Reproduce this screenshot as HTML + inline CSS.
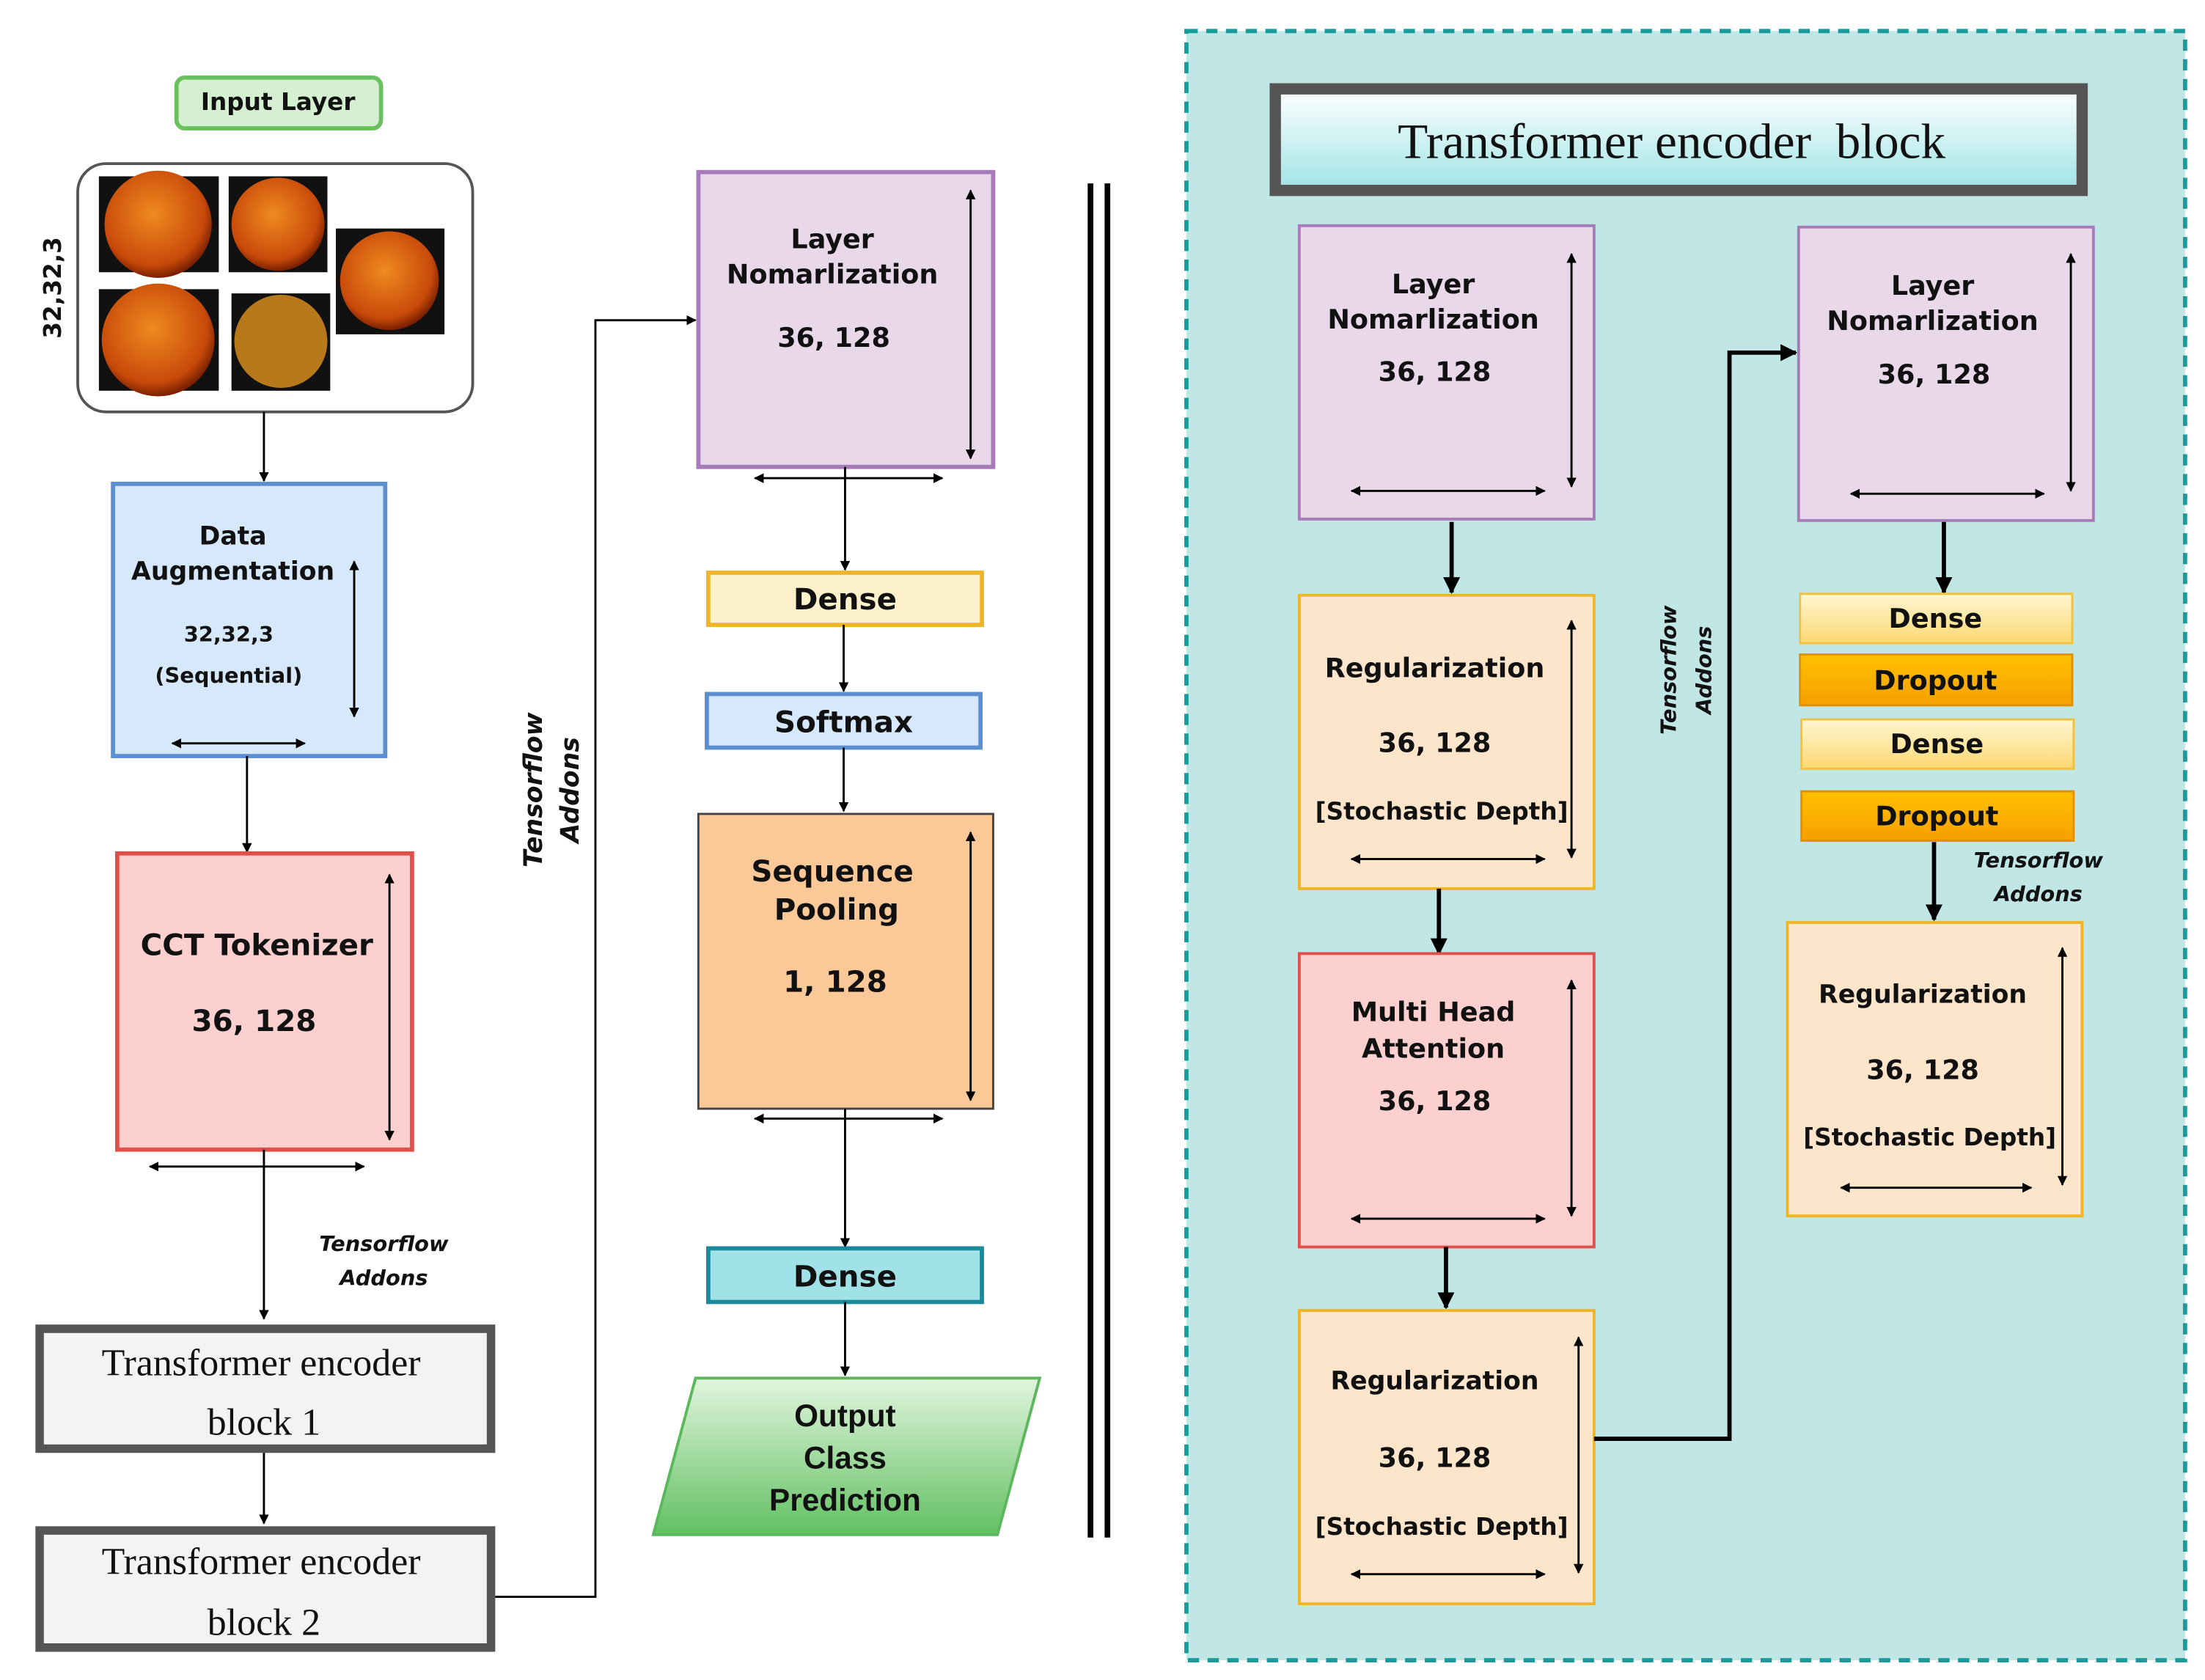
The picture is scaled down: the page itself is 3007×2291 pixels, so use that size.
<!DOCTYPE html>
<html><head><meta charset="utf-8"><style>html,body{margin:0;padding:0;background:#fff}svg{display:block}</style></head>
<body>
<svg xmlns="http://www.w3.org/2000/svg" width="3007" height="2291" viewBox="0 0 1563 1191">
<defs>
<marker id="a" viewBox="0 0 10 10" refX="9" refY="5" markerWidth="7" markerHeight="7" orient="auto-start-reverse" markerUnits="userSpaceOnUse"><path d="M0,0 L10,5 L0,10 z" fill="#000"/></marker>
<marker id="b" viewBox="0 0 10 10" refX="9" refY="5" markerWidth="12" markerHeight="12" orient="auto-start-reverse" markerUnits="userSpaceOnUse"><path d="M0,0 L10,5 L0,10 z" fill="#000"/></marker>
<linearGradient id="g" x1="0" y1="0" x2="0" y2="1"><stop offset="0" stop-color="#e2f5de"/><stop offset="1" stop-color="#62c062"/></linearGradient>
<linearGradient id="t" x1="0" y1="0" x2="0" y2="1"><stop offset="0" stop-color="#ffffff"/><stop offset="1" stop-color="#9fe4e6"/></linearGradient>
<linearGradient id="y" x1="0" y1="0" x2="0" y2="1"><stop offset="0" stop-color="#fff6d2"/><stop offset="1" stop-color="#fbd872"/></linearGradient>
<linearGradient id="o" x1="0" y1="0" x2="0" y2="1"><stop offset="0" stop-color="#ffc000"/><stop offset="1" stop-color="#f5a000"/></linearGradient>
<radialGradient id="f" cx="0.45" cy="0.4" r="0.6"><stop offset="0" stop-color="#f08a20"/><stop offset="0.8" stop-color="#c84a0a"/><stop offset="1" stop-color="#7a2000"/></radialGradient>
</defs>
<g font-family="'DejaVu Sans','Liberation Sans',sans-serif" font-weight="bold" text-anchor="middle" fill="#111">

<!-- Left column -->
<rect x="125" y="55" width="145" height="36" rx="6" fill="#d5f0d0" stroke="#6abf5e" stroke-width="3"/>
<text x="197" y="78" font-size="17">Input Layer</text>
<rect x="55" y="116" width="280" height="176" rx="20" fill="#fff" stroke="#555" stroke-width="2"/>
<rect x="70" y="125" width="85" height="68" fill="#111"/><circle cx="112" cy="159" r="38" fill="url(#f)"/>
<rect x="162" y="125" width="70" height="68" fill="#111"/><circle cx="197" cy="159" r="33" fill="url(#f)"/>
<rect x="238" y="162" width="77" height="75" fill="#111"/><circle cx="276" cy="199" r="35" fill="url(#f)"/>
<rect x="70" y="205" width="85" height="72" fill="#111"/><circle cx="112" cy="241" r="40" fill="url(#f)"/>
<rect x="164" y="208" width="70" height="69" fill="#111"/><circle cx="199" cy="242" r="33" fill="#b8781c"/>
<rect x="70" y="125" width="85" height="68" fill="none"/>
<g clip-path="none"></g>
<text transform="translate(43,204) rotate(-90)" font-size="17">32,32,3</text>
<line x1="187" y1="292" x2="187" y2="341" stroke="#000" stroke-width="1.5" marker-end="url(#a)"/>

<rect x="80" y="343" width="193" height="193" fill="#d6e8fb" stroke="#5b8fd0" stroke-width="3"/>
<text x="165" y="386" font-size="18">Data</text>
<text x="165" y="411" font-size="18">Augmentation</text>
<text x="162" y="455" font-size="15">32,32,3</text>
<text x="162" y="484" font-size="15">(Sequential)</text>
<line x1="251" y1="398" x2="251" y2="508" stroke="#000" stroke-width="1.5" marker-start="url(#a)" marker-end="url(#a)"/>
<line x1="122" y1="527" x2="216" y2="527" stroke="#000" stroke-width="1.5" marker-start="url(#a)" marker-end="url(#a)"/>
<line x1="175" y1="536" x2="175" y2="604" stroke="#000" stroke-width="1.5" marker-end="url(#a)"/>

<rect x="83" y="605" width="209" height="210" fill="#fdd0d0" stroke="#e0504a" stroke-width="3"/>
<text x="182" y="677" font-size="21">CCT Tokenizer</text>
<text x="180" y="731" font-size="21">36, 128</text>
<line x1="276" y1="620" x2="276" y2="808" stroke="#000" stroke-width="1.5" marker-start="url(#a)" marker-end="url(#a)"/>
<line x1="106" y1="827" x2="258" y2="827" stroke="#000" stroke-width="1.5" marker-start="url(#a)" marker-end="url(#a)"/>
<line x1="187" y1="815" x2="187" y2="935" stroke="#000" stroke-width="1.5" marker-end="url(#a)"/>
<text x="272" y="887" font-size="15" font-style="italic">Tensorflow</text>
<text x="272" y="911" font-size="15" font-style="italic">Addons</text>

<rect x="28" y="942" width="320" height="85" fill="#f3f3f3" stroke="#555" stroke-width="6"/>
<text x="185" y="975" font-size="27" font-family="'Liberation Serif',serif" font-weight="normal">Transformer encoder</text>
<text x="187" y="1017" font-size="27" font-family="'Liberation Serif',serif" font-weight="normal">block 1</text>
<line x1="187" y1="1030" x2="187" y2="1080" stroke="#000" stroke-width="1.5" marker-end="url(#a)"/>
<rect x="28" y="1085" width="320" height="83" fill="#f3f3f3" stroke="#555" stroke-width="6"/>
<text x="185" y="1116" font-size="27" font-family="'Liberation Serif',serif" font-weight="normal">Transformer encoder</text>
<text x="187" y="1159" font-size="27" font-family="'Liberation Serif',serif" font-weight="normal">block 2</text>
<polyline points="351,1132 422,1132 422,227 493,227" fill="none" stroke="#000" stroke-width="1.5" marker-end="url(#a)"/>
<text transform="translate(384,560) rotate(-90)" font-size="18" font-style="italic">Tensorflow</text>
<text transform="translate(410,560) rotate(-90)" font-size="18" font-style="italic">Addons</text>

<!-- Middle column -->
<rect x="495" y="122" width="209" height="209" fill="#e8d8ea" stroke="#a77bb8" stroke-width="3"/>
<text x="590" y="176" font-size="19">Layer</text>
<text x="590" y="201" font-size="19">Nomarlization</text>
<text x="591" y="246" font-size="19">36, 128</text>
<line x1="688" y1="135" x2="688" y2="325" stroke="#000" stroke-width="1.5" marker-start="url(#a)" marker-end="url(#a)"/>
<line x1="535" y1="339" x2="668" y2="339" stroke="#000" stroke-width="1.5" marker-start="url(#a)" marker-end="url(#a)"/>
<line x1="599" y1="331" x2="599" y2="404" stroke="#000" stroke-width="1.5" marker-end="url(#a)"/>
<rect x="502" y="406" width="194" height="37" fill="#fdf1cc" stroke="#f0b429" stroke-width="3"/>
<text x="599" y="432" font-size="21">Dense</text>
<line x1="598" y1="443" x2="598" y2="490" stroke="#000" stroke-width="1.5" marker-end="url(#a)"/>
<rect x="501" y="492" width="194" height="38" fill="#d6e8fb" stroke="#5b8fd0" stroke-width="3"/>
<text x="598" y="519" font-size="21">Softmax</text>
<line x1="598" y1="530" x2="598" y2="575" stroke="#000" stroke-width="1.5" marker-end="url(#a)"/>
<rect x="495" y="577" width="209" height="209" fill="#fbc898" stroke="#444" stroke-width="1.5"/>
<text x="590" y="625" font-size="21">Sequence</text>
<text x="593" y="652" font-size="21">Pooling</text>
<text x="592" y="703" font-size="21">1, 128</text>
<line x1="688" y1="590" x2="688" y2="780" stroke="#000" stroke-width="1.5" marker-start="url(#a)" marker-end="url(#a)"/>
<line x1="535" y1="793" x2="668" y2="793" stroke="#000" stroke-width="1.5" marker-start="url(#a)" marker-end="url(#a)"/>
<line x1="599" y1="786" x2="599" y2="884" stroke="#000" stroke-width="1.5" marker-end="url(#a)"/>
<rect x="502" y="885" width="194" height="38" fill="#a0e2e8" stroke="#1a8a9a" stroke-width="3"/>
<text x="599" y="912" font-size="21">Dense</text>
<line x1="599" y1="923" x2="599" y2="975" stroke="#000" stroke-width="1.5" marker-end="url(#a)"/>
<polygon points="493,977 737,977 707,1088 463,1088" fill="url(#g)" stroke="#5cb85c" stroke-width="2"/>
<text x="599" y="1011" font-size="22" font-family="'Liberation Sans',sans-serif">Output</text>
<text x="599" y="1041" font-size="22" font-family="'Liberation Sans',sans-serif">Class</text>
<text x="599" y="1071" font-size="22" font-family="'Liberation Sans',sans-serif">Prediction</text>
<line x1="773" y1="130" x2="773" y2="1090" stroke="#000" stroke-width="4"/>
<line x1="785" y1="130" x2="785" y2="1090" stroke="#000" stroke-width="4"/>

<!-- Right panel -->
<rect x="841" y="22" width="708" height="1155" fill="#c0e6e6" stroke="#1a9a9a" stroke-width="3" stroke-dasharray="8,6"/>
<rect x="904" y="63" width="572" height="72" fill="url(#t)" stroke="#555" stroke-width="8"/>
<text x="1185" y="112" font-size="35" font-family="'Liberation Serif',serif" font-weight="normal" xml:space="preserve">Transformer encoder  block</text>

<rect x="921" y="160" width="209" height="208" fill="#e8d8ea" stroke="#a77bb8" stroke-width="2"/>
<text x="1016" y="208" font-size="19">Layer</text>
<text x="1016" y="233" font-size="19">Nomarlization</text>
<text x="1017" y="270" font-size="19">36, 128</text>
<line x1="1114" y1="180" x2="1114" y2="345" stroke="#000" stroke-width="1.5" marker-start="url(#a)" marker-end="url(#a)"/>
<line x1="958" y1="348" x2="1095" y2="348" stroke="#000" stroke-width="1.5" marker-start="url(#a)" marker-end="url(#a)"/>
<line x1="1029" y1="370" x2="1029" y2="420" stroke="#000" stroke-width="3" marker-end="url(#b)"/>

<rect x="921" y="422" width="209" height="208" fill="#fde5cc" stroke="#f0b429" stroke-width="2"/>
<text x="1017" y="480" font-size="19">Regularization</text>
<text x="1017" y="533" font-size="19">36, 128</text>
<text x="1022" y="581" font-size="17">[Stochastic Depth]</text>
<line x1="1114" y1="440" x2="1114" y2="608" stroke="#000" stroke-width="1.5" marker-start="url(#a)" marker-end="url(#a)"/>
<line x1="958" y1="609" x2="1095" y2="609" stroke="#000" stroke-width="1.5" marker-start="url(#a)" marker-end="url(#a)"/>
<line x1="1020" y1="630" x2="1020" y2="676" stroke="#000" stroke-width="3" marker-end="url(#b)"/>

<rect x="921" y="676" width="209" height="208" fill="#fdd0d0" stroke="#e0504a" stroke-width="2"/>
<text x="1016" y="724" font-size="19">Multi Head</text>
<text x="1016" y="750" font-size="19">Attention</text>
<text x="1017" y="787" font-size="19">36, 128</text>
<line x1="1114" y1="695" x2="1114" y2="862" stroke="#000" stroke-width="1.5" marker-start="url(#a)" marker-end="url(#a)"/>
<line x1="958" y1="864" x2="1095" y2="864" stroke="#000" stroke-width="1.5" marker-start="url(#a)" marker-end="url(#a)"/>
<line x1="1025" y1="884" x2="1025" y2="927" stroke="#000" stroke-width="3" marker-end="url(#b)"/>

<rect x="921" y="929" width="209" height="208" fill="#fde5cc" stroke="#f0b429" stroke-width="2"/>
<text x="1017" y="985" font-size="18">Regularization</text>
<text x="1017" y="1040" font-size="19">36, 128</text>
<text x="1022" y="1088" font-size="17">[Stochastic Depth]</text>
<line x1="1119" y1="948" x2="1119" y2="1115" stroke="#000" stroke-width="1.5" marker-start="url(#a)" marker-end="url(#a)"/>
<line x1="958" y1="1116" x2="1095" y2="1116" stroke="#000" stroke-width="1.5" marker-start="url(#a)" marker-end="url(#a)"/>
<polyline points="1130,1020 1226,1020 1226,250 1273,250" fill="none" stroke="#000" stroke-width="3" marker-end="url(#b)"/>
<text transform="translate(1188,475) rotate(-90)" font-size="15" font-style="italic">Tensorflow</text>
<text transform="translate(1213,475) rotate(-90)" font-size="15" font-style="italic">Addons</text>

<rect x="1275" y="161" width="209" height="208" fill="#e8d8ea" stroke="#a77bb8" stroke-width="2"/>
<text x="1370" y="209" font-size="19">Layer</text>
<text x="1370" y="234" font-size="19">Nomarlization</text>
<text x="1371" y="272" font-size="19">36, 128</text>
<line x1="1468" y1="180" x2="1468" y2="348" stroke="#000" stroke-width="1.5" marker-start="url(#a)" marker-end="url(#a)"/>
<line x1="1312" y1="350" x2="1449" y2="350" stroke="#000" stroke-width="1.5" marker-start="url(#a)" marker-end="url(#a)"/>
<line x1="1378" y1="370" x2="1378" y2="420" stroke="#000" stroke-width="3" marker-end="url(#b)"/>

<rect x="1276" y="421" width="193" height="35" fill="url(#y)" stroke="#f0c040" stroke-width="1.5"/>
<text x="1372" y="445" font-size="19">Dense</text>
<rect x="1276" y="464" width="193" height="36" fill="url(#o)" stroke="#e09000" stroke-width="1.5"/>
<text x="1372" y="489" font-size="19">Dropout</text>
<rect x="1277" y="510" width="193" height="35" fill="url(#y)" stroke="#f0c040" stroke-width="1.5"/>
<text x="1373" y="534" font-size="19">Dense</text>
<rect x="1277" y="561" width="193" height="35" fill="url(#o)" stroke="#e09000" stroke-width="1.5"/>
<text x="1373" y="585" font-size="19">Dropout</text>
<line x1="1371" y1="597" x2="1371" y2="652" stroke="#000" stroke-width="3" marker-end="url(#b)"/>
<text x="1445" y="615" font-size="15" font-style="italic">Tensorflow</text>
<text x="1445" y="639" font-size="15" font-style="italic">Addons</text>

<rect x="1267" y="654" width="209" height="208" fill="#fde5cc" stroke="#f0b429" stroke-width="2"/>
<text x="1363" y="711" font-size="18">Regularization</text>
<text x="1363" y="765" font-size="19">36, 128</text>
<text x="1368" y="812" font-size="17">[Stochastic Depth]</text>
<line x1="1462" y1="672" x2="1462" y2="840" stroke="#000" stroke-width="1.5" marker-start="url(#a)" marker-end="url(#a)"/>
<line x1="1305" y1="842" x2="1440" y2="842" stroke="#000" stroke-width="1.5" marker-start="url(#a)" marker-end="url(#a)"/>
</g>
</svg>
</body></html>
